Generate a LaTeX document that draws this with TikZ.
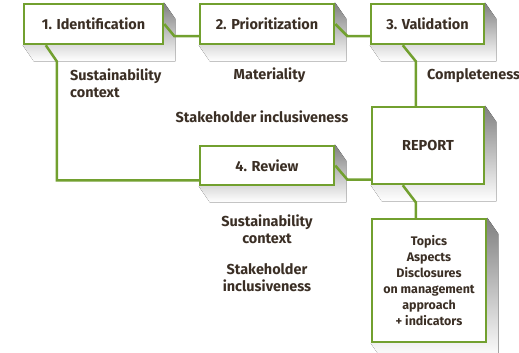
\documentclass[tikz,border=0pt]{standalone}
\usepackage{fontspec}
\setmainfont{Fira Sans}
\usetikzlibrary{calc,backgrounds}
\definecolor{leaf}{HTML}{72A02F}
\definecolor{ink}{HTML}{3B2F25}
\definecolor{shade}{HTML}{D9D5D0}

\begin{document}
\begin{tikzpicture}[x=1bp,y=-1bp,
        every node/.style={text=ink},
        stage/.style={draw=leaf, line width=2.5bp, fill=white, inner sep=0pt,
            font=\bfseries\fontsize{14.5}{17}\selectfont},
        link/.style={draw=leaf, line width=2.5bp},
        note/.style={inner sep=0pt, font=\bfseries\fontsize{14.5}{17}\selectfont}]
        \useasboundingbox (0,0) rectangle (519,352);

        % the stages
        \node[stage, minimum width=139bp, minimum height=40bp] (ident) at (93.5,24) {1. Identification};
        \node[stage, minimum width=134bp, minimum height=40bp] (prio) at (267,24) {2. Prioritization};
        \node[stage, minimum width=113bp, minimum height=40bp] (valid) at (427.5,24) {3. Validation};
        \node[stage, minimum width=112bp, minimum height=77bp] (report) at (428,145.5) {REPORT};
        \node[stage, minimum width=134bp, minimum height=39bp] (review) at (267,165.5) {4. Review};
        \node[stage, minimum width=114bp, minimum height=123bp, align=center,
            font=\bfseries\fontsize{12.5}{16}\selectfont] (topics) at (429,280.5)
            {Topics\\Aspects\\Disclosures\\on management\\approach\\+ indicators};

        % extruded shadows
        \begin{scope}[on background layer]
            \foreach \n in {ident,prio,valid,report,review,topics}
                \fill[shade] (\n.north east) -- ++(11,16) -- ($(\n.south east)+(11,16)$)
                    -- ($(\n.south west)+(11,16)$) -- (\n.south west) -- cycle;
        \end{scope}

        % the links
        \draw[link] (ident.east) -- ++(10,12) coordinate (k1) -- (k1 -| prio.west);
        \draw[link] (prio.east) -- ++(12,12) coordinate (k2) -- (k2 -| valid.west);
        \draw[link] ($(valid.south west)+(33,0)$) -- ++(13,16) coordinate (k3) -- (k3 |- report.north);
        \draw[link] (review.east) -- ++(12,14) coordinate (k4) -- (k4 -| report.west);
        \draw[link] ($(report.south west)+(32,0)$) -- ++(13,17) coordinate (k5) -- (k5 |- topics.north);
        \draw[link] ($(ident.south west)+(23,0)$) -- ++(11,16) coordinate (k6)
            -- ($(k6 |- review.south west)+(0,-6)$) -- ($(review.south west)+(0,-6)$);

        % the principles
        \node[note, align=left, anchor=north west] (ctxa) at (70,69) {Sustainability\\context};
        \node[note, anchor=base] (mater) at (269.5,79) {Materiality};
        \node[note, anchor=base] (inclua) at (262,122.5) {Stakeholder inclusiveness};
        \node[note, anchor=base west] (compl) at (427,79) {Completeness};
        \node[note, align=center, anchor=north] (ctxb) at (267,215) {Sustainability\\context};
        \node[note, align=center, anchor=north] (inclub) at (267,263) {Stakeholder\\inclusiveness};
    \end{tikzpicture}
\end{document}
